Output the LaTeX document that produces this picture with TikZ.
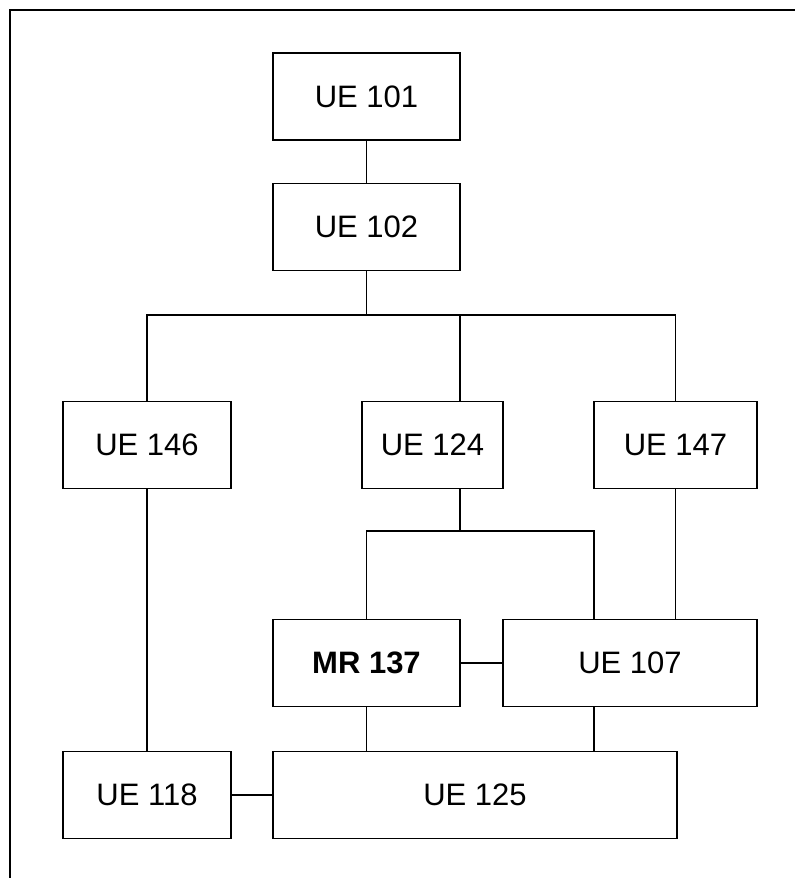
\documentclass[tikz,border=0pt]{standalone}
\usepackage{fontspec}
\setmainfont{Liberation Sans}
\usepackage{tikz}

\tikzset{
    unit/.style={draw, rectangle, inner sep=0, minimum height=87, font=\fontsize{31}{37}\selectfont},
}

\begin{document}
\begin{tikzpicture}[x=1pt, y=-1pt, line width=1.8pt]
\useasboundingbox (0, 0) rectangle (795, 878);

% Draw frame.
\draw (10, 878) -- (10, 10) -- (795, 10);

% Draw units.
\node[unit, minimum width=187] (ue101) at (366.5, 96.5) {UE 101};
\node[unit, minimum width=187] (ue102) at (366.5, 227) {UE 102};
\node[unit, minimum width=168] (ue146) at (147, 445) {UE 146};
\node[unit, minimum width=141] (ue124) at (432.5, 445) {UE 124};
\node[unit, minimum width=163] (ue147) at (675.5, 445) {UE 147};
\node[unit, minimum width=187] (mr137) at (366.5, 663) {\bfseries MR 137};
\node[unit, minimum width=254] (ue107) at (630, 663) {UE 107};
\node[unit, minimum width=168] (ue118) at (147, 795) {UE 118};
\node[unit, minimum width=404] (ue125) at (475, 795) {UE 125};

% Draw branch points.
\coordinate (busL) at (147, 315);
\coordinate (tapT) at (460, 315);
\coordinate (tapB) at (460, 531);
\coordinate (forkL) at (366.5, 531);
\coordinate (forkR) at (594, 531);

% Draw links.
\draw (ue101) -- (ue102);
\draw (ue102) -- (ue102 |- busL);
\draw (ue146) -- (busL) -- (busL -| ue147) -- (ue147);
\draw (tapT) -- (tapT |- ue124.north);
\draw (tapT |- ue124.south) -- (tapB);
\draw (mr137) -- (forkL) -- (forkR) -- (forkR |- ue107.north);
\draw (ue147) -- (ue147 |- ue107.north);
\draw (mr137) -- (ue107);
\draw (mr137) -- (mr137 |- ue125.north);
\draw (forkR |- ue107.south) -- (forkR |- ue125.north);
\draw (ue146) -- (ue118);
\draw (ue118) -- (ue125);

\end{tikzpicture}
\end{document}
